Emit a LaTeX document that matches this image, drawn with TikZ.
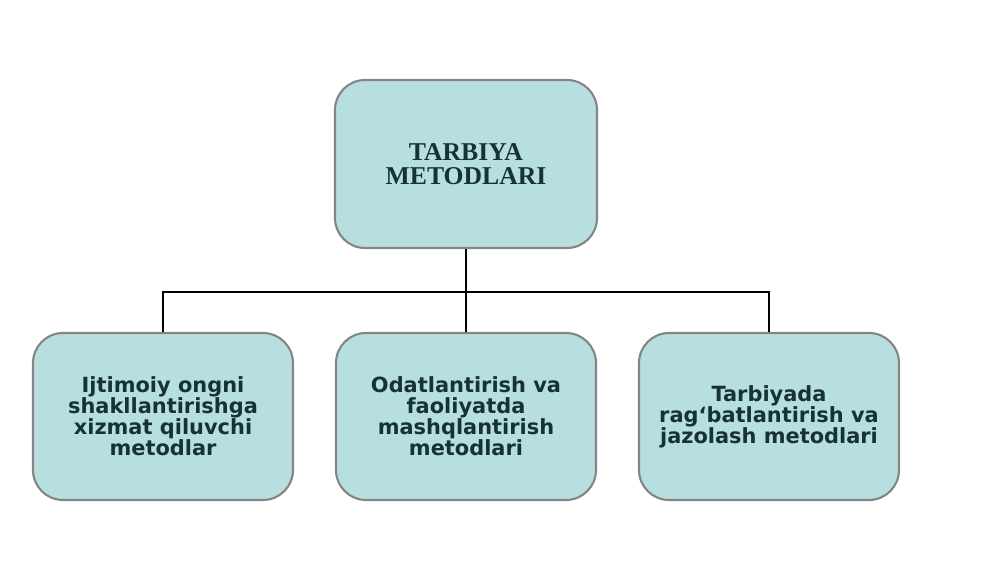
\documentclass[tikz,border=0pt]{standalone}
\usepackage{fontspec}
\setmainfont{Liberation Serif}
\newfontfamily\boxfont{DejaVu Sans}
\usepackage{tikz}

\definecolor{boxfill}{HTML}{B8DFE0}
\definecolor{boxline}{HTML}{858585}
\definecolor{boxtext}{HTML}{173236}

\tikzset{
  metbox/.style={draw=boxline,line width=1.2pt,fill=boxfill,rounded corners=0.6cm,
    text=boxtext,align=center,inner sep=0pt},
  topbox/.style={metbox,minimum width=5.24cm,minimum height=3.36cm,
    font=\fontsize{14.6}{13.8}\selectfont\bfseries},
  subbox/.style={metbox,minimum width=5.2cm,minimum height=3.34cm,
    font=\boxfont\fontsize{11.9}{12}\selectfont\bfseries},
  link/.style={draw=black,line width=1.4pt}
}

\begin{document}
\begin{tikzpicture}
    \useasboundingbox (0,0) rectangle (20,11.24);
    \node[topbox] (M) at (9.32,7.96) {TARBIYA\\METODLARI};
    \node[subbox] (B1) at (3.26,2.91) {Ijtimoiy ongni\\shakllantirishga\\xizmat qiluvchi\\metodlar};
    \node[subbox] (B2) at (9.32,2.91) {Odatlantirish va\\faoliyatda\\mashqlantirish\\metodlari};
    \node[subbox] (B3) at (15.38,2.91) {Tarbiyada\\rag‘batlantirish va\\jazolash metodlari};
    \coordinate (bus) at (9.32,5.4);
    \draw[link] (M.south) -- (B2.north);
    \draw[link] (B1.north) -- (B1.north |- bus) -- (B3.north |- bus) -- (B3.north);
  \end{tikzpicture}
\end{document}
